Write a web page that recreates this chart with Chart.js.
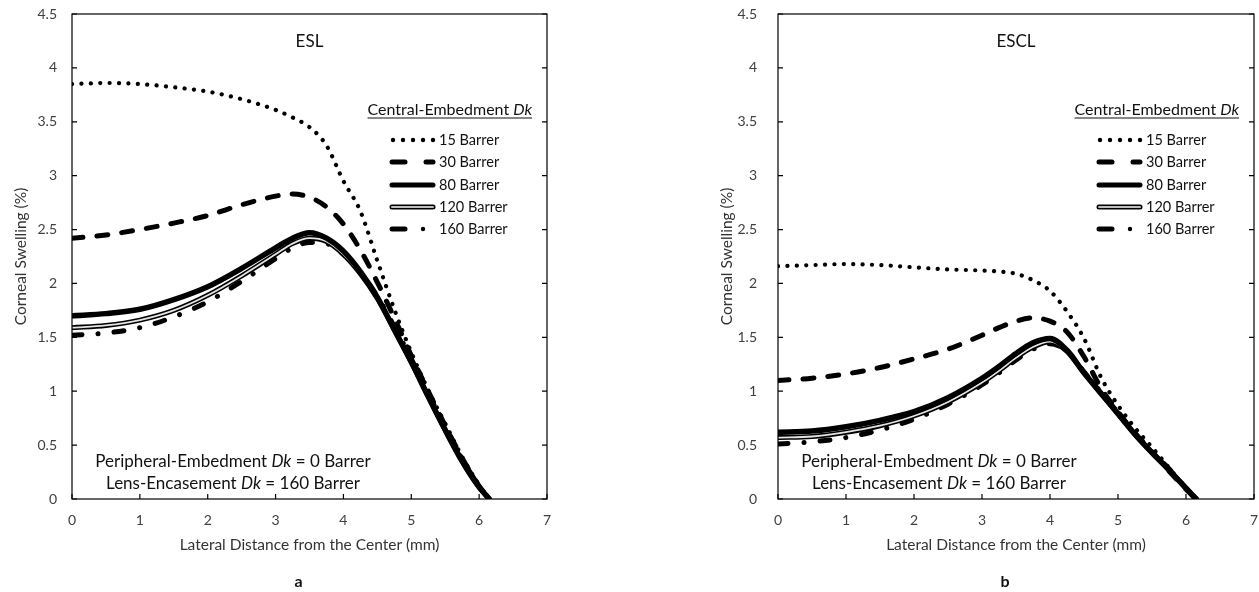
<!DOCTYPE html>
<html>
<head>
<meta charset="utf-8">
<script src="https://cdn.jsdelivr.net/npm/chart.js@4.4.0/dist/chart.umd.min.js"></script>
<style>
  html, body { margin: 0; padding: 0; background: #fff; }
  #wrap { position: relative; width: 1259px; height: 592px; overflow: hidden; }
  .panel { position: absolute; top: 0; height: 592px; }
  #panelA { left: 0; width: 560px; }
  #panelB { left: 700px; width: 559px; }
</style>
</head>
<body>
<div id="wrap">
  <div class="panel" id="panelA"><canvas id="chartA"></canvas></div>
  <div class="panel" id="panelB"><canvas id="chartB"></canvas></div>
</div>
<script>
// lateral distance (mm), shared by every curve
const distances = [0, 0.5, 1, 1.5, 2, 2.5, 3, 3.25, 3.5, 3.75, 4, 4.25, 4.5, 4.75, 5, 5.25, 5.5, 5.75, 6, 6.15]
const legendLabels = ['15 Barrer', '30 Barrer', '80 Barrer', '120 Barrer', '160 Barrer']
const xTicks = [0, 1, 2, 3, 4, 5, 6, 7]
const yTicks = [0, 0.5, 1, 1.5, 2, 2.5, 3, 3.5, 4, 4.5]

// ESL - corneal swelling (%)
const esl15  = [3.85, 3.86, 3.85, 3.82, 3.78, 3.71, 3.61, 3.54, 3.45, 3.28, 2.95, 2.67, 2.21, 1.76, 1.36, 1.01, 0.70, 0.39, 0.13, 0]
const esl30  = [2.42, 2.45, 2.50, 2.56, 2.63, 2.73, 2.81, 2.83, 2.80, 2.71, 2.55, 2.31, 2.01, 1.68, 1.33, 1.00, 0.68, 0.38, 0.12, 0]
const esl80  = [1.70, 1.72, 1.76, 1.85, 1.97, 2.14, 2.33, 2.42, 2.47, 2.42, 2.30, 2.11, 1.87, 1.57, 1.27, 0.95, 0.64, 0.35, 0.11, 0]
const esl120 = [1.59, 1.61, 1.66, 1.75, 1.89, 2.07, 2.27, 2.37, 2.42, 2.39, 2.27, 2.09, 1.86, 1.57, 1.27, 0.95, 0.64, 0.35, 0.11, 0]
const esl160 = [1.52, 1.54, 1.59, 1.69, 1.83, 2.02, 2.23, 2.33, 2.38, 2.37, 2.27, 2.10, 1.88, 1.60, 1.30, 0.98, 0.67, 0.37, 0.12, 0]

// ESCL - corneal swelling (%)
const escl15  = [2.16, 2.17, 2.18, 2.17, 2.15, 2.13, 2.12, 2.11, 2.09, 2.03, 1.93, 1.74, 1.49, 1.13, 0.87, 0.66, 0.48, 0.29, 0.10, 0]
const escl30  = [1.10, 1.12, 1.16, 1.22, 1.30, 1.39, 1.52, 1.59, 1.65, 1.68, 1.65, 1.55, 1.32, 1.03, 0.81, 0.61, 0.44, 0.26, 0.09, 0]
const escl80  = [0.62, 0.63, 0.67, 0.73, 0.81, 0.94, 1.12, 1.23, 1.35, 1.45, 1.49, 1.38, 1.17, 0.98, 0.79, 0.60, 0.43, 0.27, 0.10, 0]
const escl120 = [0.57, 0.58, 0.62, 0.68, 0.77, 0.90, 1.08, 1.19, 1.31, 1.41, 1.46, 1.37, 1.17, 0.98, 0.79, 0.60, 0.43, 0.27, 0.10, 0]
const escl160 = [0.51, 0.53, 0.57, 0.64, 0.74, 0.88, 1.06, 1.17, 1.29, 1.39, 1.44, 1.37, 1.18, 0.99, 0.80, 0.61, 0.44, 0.28, 0.10, 0]

const FONT = 'Lato, "Open Sans", sans-serif'
Chart.defaults.font.family = FONT

function toPoints(ys) {
    return distances.map((x, i) => ({ x: x, y: ys[i] }))
}

function buildDatasets(s) {
    const base = { borderColor: '#000', pointRadius: 0, fill: false, cubicInterpolationMode: 'monotone', borderCapStyle: 'round' }
    return [
        { ...base, label: legendLabels[0], data: toPoints(s[0]), borderWidth: 4.2, borderDash: [0.1, 9.3], order: 1 },
        { ...base, label: legendLabels[1], data: toPoints(s[1]), borderWidth: 5, borderDash: [11, 14], order: 2 },
        { ...base, label: legendLabels[2], data: toPoints(s[2]), borderWidth: 5.5, order: 3 },
        { ...base, label: legendLabels[3], data: toPoints(s[3]), borderWidth: 5, order: 5 },
        { ...base, label: '', data: toPoints(s[3]), borderWidth: 1.8, borderColor: '#e4e4e4', order: 4 },
        { ...base, label: legendLabels[4], data: toPoints(s[4]), borderWidth: 5, borderDash: [10, 16, 0.1, 16], order: 6 }
    ]
}

// text with italic pieces, e.g. "Dk"
function drawRich(ctx, parts, x, y, size, align) {
    const widths = parts.map(p => {
        ctx.font = (p.i ? 'italic ' : '') + size + 'px ' + FONT
        return ctx.measureText(p.t).width
    })
    const total = widths.reduce((a, b) => a + b, 0)
    let cx = align === 'center' ? x - total / 2 : (align === 'right' ? x - total : x)
    const start = cx
    ctx.textAlign = 'left'
    ctx.textBaseline = 'middle'
    parts.forEach((p, i) => {
        ctx.font = (p.i ? 'italic ' : '') + size + 'px ' + FONT
        ctx.fillText(p.t, cx, y)
        cx += widths[i]
    })
    return { start: start, end: cx }
}

function seg(ctx, x1, x2, y, w) {
    ctx.lineWidth = w
    ctx.beginPath()
    ctx.moveTo(x1, y)
    ctx.lineTo(x2, y)
    ctx.stroke()
}

const framePlugin = {
    id: 'frame',
    afterDraw(chart, args, opts) {
        const ctx = chart.ctx
        const a = chart.chartArea
        const xs = chart.scales.x
        const ys = chart.scales.y
        ctx.save()

        // box and inward ticks
        ctx.strokeStyle = '#000'
        ctx.lineWidth = 1.2
        ctx.strokeRect(a.left, a.top, a.right - a.left, a.bottom - a.top)
        ctx.beginPath()
        xTicks.forEach(v => {
            const px = xs.getPixelForValue(v)
            ctx.moveTo(px, a.bottom)
            ctx.lineTo(px, a.bottom - 5)
        })
        yTicks.forEach(v => {
            const py = ys.getPixelForValue(v)
            ctx.moveTo(a.left, py)
            ctx.lineTo(a.left + 5, py)
            ctx.moveTo(a.right, py)
            ctx.lineTo(a.right - 5, py)
        })
        ctx.stroke()

        // tick labels
        ctx.fillStyle = '#404040'
        ctx.font = '14px ' + FONT
        ctx.textBaseline = 'middle'
        ctx.textAlign = 'center'
        xTicks.forEach(v => ctx.fillText(String(v), xs.getPixelForValue(v), 520))
        ctx.textAlign = 'right'
        yTicks.forEach(v => ctx.fillText(String(v), a.left - opts.labelGap, ys.getPixelForValue(v)))

        const midX = (a.left + a.right) / 2
        const midY = (a.top + a.bottom) / 2

        // axis titles
        ctx.fillStyle = '#333'
        ctx.font = '15.5px ' + FONT
        ctx.textAlign = 'center'
        ctx.textBaseline = 'middle'
        ctx.fillText('Lateral Distance from the Center (mm)', midX, 545)
        ctx.save()
        ctx.translate(a.left - 51, midY)
        ctx.rotate(-Math.PI / 2)
        ctx.fillText('Corneal Swelling (%)', 0, 0)
        ctx.restore()

        // panel letter and title
        ctx.fillStyle = '#111'
        ctx.font = 'bold 16px ' + FONT
        ctx.fillText(opts.letter, midX - 11, 582)
        ctx.font = '17px ' + FONT
        ctx.fillText(opts.title, midX, 42)

        // bottom annotation
        ctx.fillStyle = '#111'
        const ax = a.left + 161
        drawRich(ctx, [{ t: 'Peripheral-Embedment ' }, { t: 'Dk', i: true }, { t: ' = 0 Barrer' }], ax, 462, 17, 'center')
        drawRich(ctx, [{ t: 'Lens-Encasement ' }, { t: 'Dk', i: true }, { t: ' = 160 Barrer' }], ax, 484, 17, 'center')

        // legend
        const head = drawRich(ctx, [{ t: 'Central-Embedment ' }, { t: 'Dk', i: true }], a.right - 15, 110, 16, 'right')
        ctx.strokeStyle = '#111'
        seg(ctx, head.start, head.end, 118, 1.2)

        const sx = a.right - 157
        const ex = a.right - 114
        const rows = [140, 162, 185, 207, 229]
        ctx.strokeStyle = '#000'
        ctx.fillStyle = '#000'
        ctx.lineCap = 'round'
        // 15: dots
        for (let i = 0; i < 5; i++) {
            ctx.beginPath()
            ctx.arc(sx + 3 + i * 10, rows[0], 2.2, 0, Math.PI * 2)
            ctx.fill()
        }
        // 30: dash gap dash
        seg(ctx, sx + 2, sx + 15, rows[1], 5)
        seg(ctx, sx + 36, ex, rows[1], 5)
        // 80: solid
        seg(ctx, sx + 2, ex, rows[2], 5)
        // 120: double
        seg(ctx, sx + 2, ex, rows[3], 5)
        ctx.strokeStyle = '#bdbdbd'
        seg(ctx, sx + 2, ex, rows[3], 2)
        // 160: dash dot
        ctx.strokeStyle = '#000'
        seg(ctx, sx + 2, sx + 15, rows[4], 5)
        ctx.beginPath()
        ctx.arc(sx + 33, rows[4], 2.2, 0, Math.PI * 2)
        ctx.fill()

        ctx.fillStyle = '#111'
        ctx.font = '14.5px ' + FONT
        ctx.textAlign = 'left'
        ctx.textBaseline = 'middle'
        legendLabels.forEach((lab, i) => {
            ctx.fillText(lab, a.right - 108, rows[i])
        })
        ctx.restore()
    }
}

function makeChart(id, series, yWidth, rightPad, labelGap, title, letter) {
    return new Chart(document.getElementById(id), {
        type: 'line',
        data: { datasets: buildDatasets(series) },
        options: {
            responsive: true,
            maintainAspectRatio: false,
            animation: false,
            layout: { padding: { top: 14, right: rightPad, left: 0, bottom: 0 } },
            plugins: {
                legend: { display: false },
                tooltip: { enabled: false },
                frame: { title: title, letter: letter, labelGap: labelGap }
            },
            scales: {
                x: {
                    type: 'linear',
                    min: 0,
                    max: 7,
                    grid: { display: false, drawTicks: false },
                    border: { display: false },
                    ticks: { display: false, stepSize: 1 },
                    afterFit: s => { s.height = 93 }
                },
                y: {
                    min: 0,
                    max: 4.5,
                    grid: { display: false, drawTicks: false },
                    border: { display: false },
                    ticks: { display: false, stepSize: 0.5 },
                    afterFit: s => { s.width = yWidth }
                }
            }
        },
        plugins: [framePlugin]
    })
}

makeChart('chartA', [esl15, esl30, esl80, esl120, esl160], 72, 13, 15, 'ESL', 'a')
makeChart('chartB', [escl15, escl30, escl80, escl120, escl160], 78, 5, 21, 'ESCL', 'b')
</script>
</body>
</html>
